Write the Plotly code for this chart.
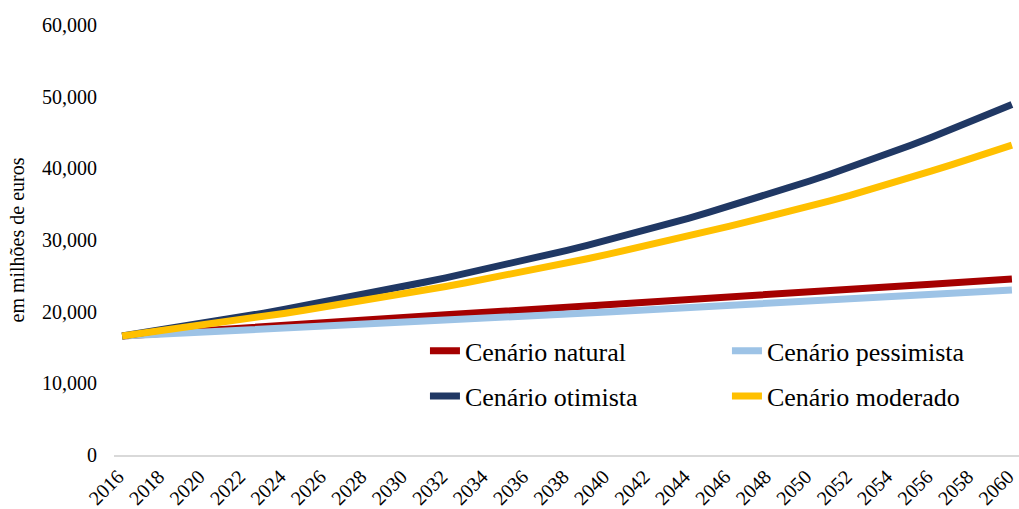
import plotly.graph_objects as go

years = list(range(2016, 2061))

natural = [16600, 16800, 17000, 17198, 17394, 17588, 17780, 17970, 18158, 18344,
           18528, 18710, 18890, 19058, 19226, 19394, 19562, 19730, 19898, 20066,
           20234, 20402, 20570, 20738, 20906, 21090, 21274, 21458, 21642, 21826,
           22010, 22194, 22378, 22562, 22746, 22930, 23114, 23298, 23478, 23658,
           23838, 24018, 24198, 24378, 24558]

pessimista = [16600, 16730, 16860, 16990, 17120, 17250, 17380, 17510, 17640, 17770,
              17900, 18030, 18160, 18310, 18460, 18610, 18760, 18910, 19060, 19210,
              19360, 19510, 19660, 19810, 19960, 20120, 20280, 20440, 20600, 20760,
              20920, 21080, 21240, 21400, 21560, 21720, 21880, 22040, 22180, 22320,
              22460, 22600, 22740, 22880, 23020]

otimista = [16600, 17023, 17457, 17902, 18359, 18827, 19307, 19799, 20304, 20822,
            21353, 21897, 22456, 23002, 23561, 24133, 24720, 25320, 25936, 26566,
            27212, 27873, 28550, 29244, 29955, 30695, 31453, 32230, 33026, 33842,
            34678, 35534, 36412, 37311, 38233, 39177, 40145, 41136, 42164, 43219,
            44299, 45407, 46542, 47705, 48898]

moderado = [16600, 16965, 17338, 17720, 18110, 18508, 18915, 19331, 19757, 20191,
            20636, 21090, 21554, 22028, 22512, 23008, 23514, 24031, 24560, 25100,
            25652, 26217, 26794, 27383, 27986, 28601, 29231, 29874, 30531, 31203,
            31889, 32591, 33250, 33960, 34700, 35450, 36220, 37010, 37850, 38720,
            39600, 40480, 41380, 42300, 43247]

series_names = ["Cenário natural", "Cenário pessimista", "Cenário otimista", "Cenário moderado"]
series_values = [natural, pessimista, otimista, moderado]
series_colors = ["#A50000", "#9DC3E6", "#203864", "#FFC000"]
legend_ids = ["legend", "legend2", "legend3", "legend4"]

x_tick_vals = list(range(2016, 2061, 2))
y_tick_vals = [0, 10000, 20000, 30000, 40000, 50000, 60000]

FONT = "Liberation Serif"

fig = go.Figure()
for name, vals, col, lg in zip(series_names, series_values, series_colors, legend_ids):
    fig.add_trace(go.Scatter(
        x=years, y=vals, mode="lines", name=name,
        line=dict(color=col, width=7),
        legend=lg,
    ))

legend_common = dict(
    font=dict(family=FONT, size=26, color="#000000"),
    bgcolor="rgba(0,0,0,0)",
    xanchor="left", yanchor="middle",
    itemwidth=30,
)

fig.update_layout(
    width=1019, height=509,
    margin=dict(l=114, r=0, t=25, b=54, autoexpand=False),
    paper_bgcolor="white", plot_bgcolor="white",
    font=dict(family=FONT, size=20, color="#000000"),
    showlegend=True,
    legend=dict(x=0.3436, y=0.242, **legend_common),
    legend2=dict(x=0.6773, y=0.242, **legend_common),
    legend3=dict(x=0.3436, y=0.137, **legend_common),
    legend4=dict(x=0.6773, y=0.137, **legend_common),
    xaxis=dict(
        range=[2015.6, 2060.35],
        tickmode="array", tickvals=x_tick_vals,
        ticktext=[str(v) for v in x_tick_vals],
        tickangle=-45,
        ticklabeloverflow="allow",
        ticklabelshift=-4,
        showgrid=False, zeroline=False,
        showline=True, linecolor="#D9D9D9", linewidth=2,
        ticks="", tickfont=dict(family=FONT, size=20, color="#000000"),
        automargin=False,
    ),
    yaxis=dict(
        range=[0, 60000],
        tickmode="array", tickvals=y_tick_vals,
        tickformat=",",
        showgrid=False, zeroline=False, showline=False,
        ticks="", ticklabelstandoff=16,
        tickfont=dict(family=FONT, size=20, color="#000000"),
        title=dict(text="em milhões de euros", font=dict(family=FONT, size=20, color="#000000"), standoff=12),
        automargin=False,
    ),
)

fig.write_html(
    "out.html",
    config={"displayModeBar": False},
    post_script="document.documentElement.style.margin='0';document.body.style.margin='0';document.body.style.overflow='hidden';",
)
